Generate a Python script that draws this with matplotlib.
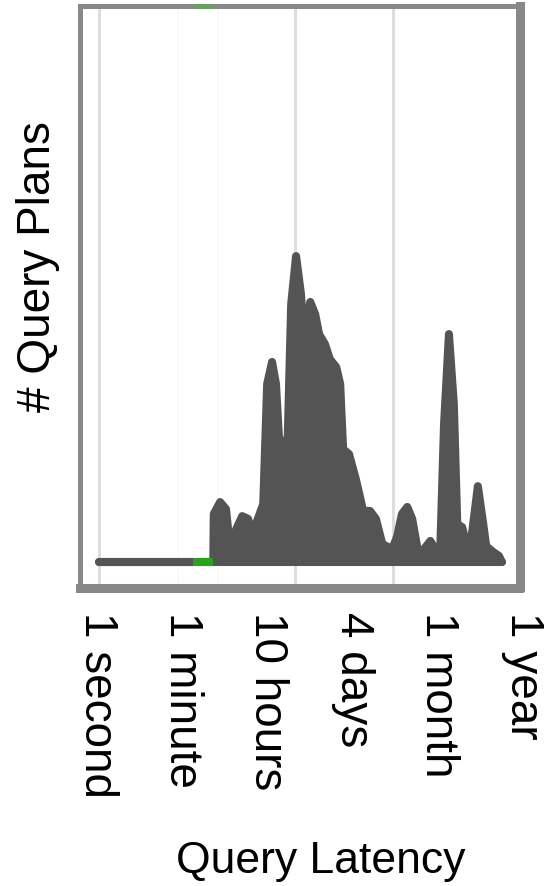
import matplotlib
matplotlib.use("Agg")
import matplotlib.pyplot as plt

# x = log10(latency in seconds), y = number of query plans (relative units)
latency_log10s = [0.00, 2.33, 2.34, 2.47, 2.59, 2.67, 2.80, 2.92, 3.04, 3.12,
                  3.24, 3.35, 3.43, 3.53, 3.61, 3.67, 3.76, 3.84, 3.92, 4.02,
                  4.12, 4.18, 4.31, 4.41, 4.49, 4.61, 4.71, 4.84, 4.92, 4.98,
                  5.10, 5.24, 5.39, 5.53, 5.65, 5.78, 5.98, 6.08, 6.18, 6.29,
                  6.39, 6.51, 6.63, 6.76, 6.88, 6.96, 7.04, 7.14, 7.24, 7.31,
                  7.41, 7.51, 7.61, 7.73, 7.84, 7.90, 8.04, 8.16, 8.22]
plan_count = [0.0, 0.0, 15.7, 19.6, 17.3, 4.9, 10.8, 15.0, 14.1, 9.2,
              14.1, 19.0, 58.2, 65.4, 58.2, 40.8, 38.6, 34.6, 84.3, 100.0,
              87.6, 73.5, 85.0, 81.0, 74.5, 71.2, 66.3, 63.7, 58.2, 36.9,
              35.3, 27.1, 16.7, 16.7, 14.1, 5.9, 4.2, 8.2, 15.7, 18.0,
              14.1, 3.3, 4.2, 6.9, 3.6, 2.6, 45.1, 74.5, 51.6, 12.4,
              11.4, 4.9, 9.2, 24.8, 12.4, 5.2, 3.3, 2.0, 0.0]

green_span = [1.92, 2.33]          # highlighted latency range
grid_decades = [0, 4, 6]
faint_lines = [1.60, 2.43]

tick_labels = ["1 second", "1 minute", "10 hours", "4 days", "1 month", "1 year"]

DARK = "#545454"
GREEN = "#2aa11f"
FRAME = "#888888"

plt.rcParams["font.family"] = ["Liberation Sans", "DejaVu Sans"]

fig = plt.figure(figsize=(5.47, 8.86), dpi=100)
ax = fig.add_axes([80 / 547, 1 - 587.5 / 886, 439.5 / 547, 582 / 886])

ax.fill_between(latency_log10s, plan_count, 0, color=DARK, lw=0, zorder=3)
ax.plot(latency_log10s, plan_count, color=DARK, lw=5.8,
        solid_joinstyle="round", solid_capstyle="round", zorder=4)
ax.plot([latency_log10s[0], latency_log10s[-1]], [0, 0], color=DARK, lw=5.8,
        solid_capstyle="round", zorder=4)
ax.plot(green_span, [0, 0], color=GREEN, lw=5.8, solid_capstyle="butt", zorder=5)

# green marker sitting on the top frame
ax.plot(green_span, [1, 1], transform=ax.get_xaxis_transform(), color="#6a9d66",
        lw=3.6, solid_capstyle="butt", clip_on=False, zorder=9)

ax.set_xlim(-0.39, 8.58)
ax.set_ylim(-8.33, 181.9)

ax.set_xticks(grid_decades)
ax.set_xticks(faint_lines, minor=True)
ax.grid(axis="x", which="major", color="#dddddd", lw=2.2, zorder=0)
ax.grid(axis="x", which="minor", color="#f8f9ee", lw=1.2, zorder=0)
ax.set_yticks([])
ax.tick_params(which="both", length=0, labelbottom=False)

for side, w in [("left", 3.6), ("top", 3.6), ("right", 6.5), ("bottom", 6.5)]:
    ax.spines[side].set_color(FRAME)
    ax.spines[side].set_linewidth(w)
    ax.spines[side].set_zorder(7)

for i, lab in enumerate(tick_labels):
    fig.text((97 + 85.2 * i) / 547, 1 - 612 / 886, lab, rotation=270,
             ha="center", va="top", fontsize=33)

fig.text(38 / 547, 1 - 267 / 886, "# Query Plans", rotation=90,
         ha="center", va="center", fontsize=33)
fig.text(321 / 547, 1 - 862 / 886, "Query Latency",
         ha="center", va="center", fontsize=32)

fig.savefig("out.png", dpi=100)
